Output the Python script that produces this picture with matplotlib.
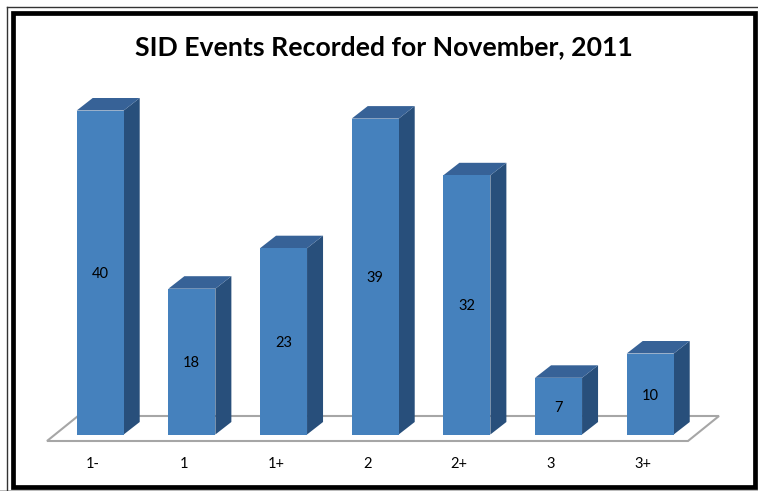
import matplotlib
matplotlib.use("Agg")
import matplotlib.pyplot as plt
from matplotlib.patches import Polygon, Rectangle
from matplotlib.lines import Line2D

categories = ["1-", "1", "1+", "2", "2+", "3", "3+"]
values = [40, 18, 23, 39, 32, 7, 10]
title = "SID Events Recorded for November, 2011"

W, H = 758, 491
PX_X = 91.67   # pixels per category
PX_Y = 8.1     # pixels per unit
X0, Y0 = 100.5, 434.5

fig = plt.figure(figsize=(W/100, H/100), dpi=100)
ax = fig.add_axes([0, 0, 1, 1])
ax.set_xlim(-X0/PX_X, (W-X0)/PX_X)
ax.set_ylim((Y0-H)/PX_Y, Y0/PX_Y)
ax.axis("off")
plt.rcParams["font.family"] = ["Lato", "DejaVu Sans"]

dx = lambda p: p/PX_X
dy = lambda p: p/PX_Y
def px(x, y):
    return (x-X0)/PX_X, (Y0-y)/PX_Y

# frame, in figure pixels
fig.add_artist(Line2D([7/W, 7/W], [0, 1-7/H], transform=fig.transFigure, color="#333333", lw=1.0))
fig.add_artist(Line2D([7/W, 1], [1-7/H, 1-7/H], transform=fig.transFigure, color="#333333", lw=1.0))
fig.add_artist(Rectangle((12.5/W, 1-486.5/H), (755-12.5)/W, (486.5-12.5)/H, transform=fig.transFigure,
                         fill=False, ec="black", lw=3.4, joinstyle="miter"))
fig.add_artist(Rectangle((0, 0), 1, 1/H, transform=fig.transFigure, fc="#BBBBBB", ec="none"))

# floor
ax.add_patch(Polygon([px(47, 441), px(688, 441), px(719, 416), px(78, 416)], closed=True,
                     fc="white", ec="#A6A6A6", lw=1.5, zorder=1))

half = dx(23.5)
depth_x, depth_y = dx(16), dy(12.5)
for i, (c, v) in enumerate(zip(categories, values)):
    l, r = i-half-dx(0.3), i+half-dx(0.3)
    ax.add_patch(Polygon([(r, 0), (r+depth_x, depth_y), (r+depth_x, v+depth_y), (r, v)],
                         closed=True, fc="#284F7B", ec="none", zorder=2))
    ax.add_patch(Polygon([(l, v), (r, v), (r+depth_x, v+depth_y), (l+depth_x, v+depth_y)],
                         closed=True, fc="#376297", ec="none", zorder=2))
    ax.add_patch(Rectangle((l, 0), r-l, v, fc="#4581BD", ec="none", zorder=3))
    ax.text(i-dx(0.5), v/2-dy(1.5), str(v), ha="center", va="center", fontsize=10.5, color="black", zorder=4)
    ax.text(i-dx(8), dy(-29.5), c, ha="center", va="center", fontsize=10.5, color="black")

fig.text(384/W, 1-47/H, title, ha="center", va="center", fontsize=19.2, fontweight="bold", color="black")
fig.savefig("out.png", dpi=100)
